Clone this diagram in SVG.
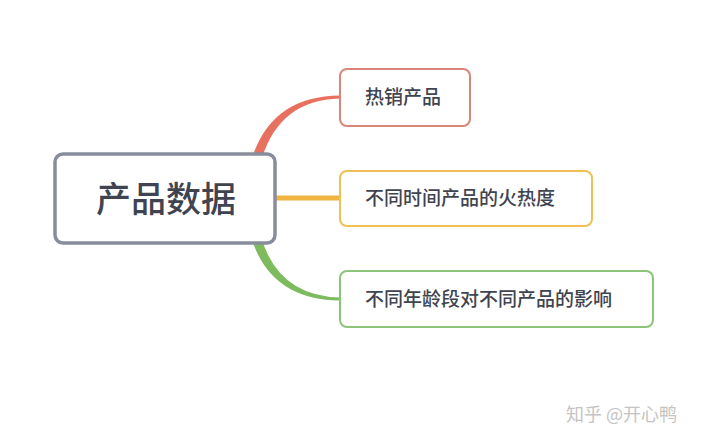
<svg xmlns="http://www.w3.org/2000/svg" width="720" height="445" viewBox="0 0 720 445">
<style>
.t{font-family:"Noto Sans CJK SC","Noto Sans",sans-serif;fill:#3f4450;font-weight:500}
.n{fill:#fff;stroke-width:2}
</style>
<rect width="720" height="445" fill="#fff"/>
<g id="connectors" stroke="none">
<path d="M252 158 Q272 96 340 95.5 L340 98.5 Q280 100 262 158 Z" fill="#e8705f"/>
<path d="M276 195.5 H340 V200.5 H276 Z" fill="#f0b440"/>
<path d="M252 240 Q272 300 340 300.5 L340 297.5 Q280 296 262 240 Z" fill="#7dbb5e"/>
</g>
<g id="root">
<rect x="55" y="154" width="220" height="89" rx="8" fill="#fff" stroke="#878d9a" stroke-width="3.5"/>
<text class="t" x="166" y="212" font-size="35" font-weight="700" text-anchor="middle">产品数据</text>
</g>
<g id="n1">
<rect class="n" x="340" y="69" width="130" height="57" rx="7" stroke="#d9867a"/>
<text class="t" x="365" y="104" font-size="19">热销产品</text>
</g>
<g id="n2">
<rect class="n" x="340" y="171" width="252" height="55" rx="7" stroke="#eec055"/>
<text class="t" x="365" y="205" font-size="19">不同时间产品的火热度</text>
</g>
<g id="n3">
<rect class="n" x="340" y="271" width="313" height="56" rx="7" stroke="#8ec479"/>
<text class="t" x="365" y="306" font-size="19">不同年龄段对不同产品的影响</text>
</g>
<text x="566" y="421" font-family="Noto Sans CJK SC,sans-serif" font-size="18" fill="#c4c4c4">知乎 @开心鸭</text>
</svg>
